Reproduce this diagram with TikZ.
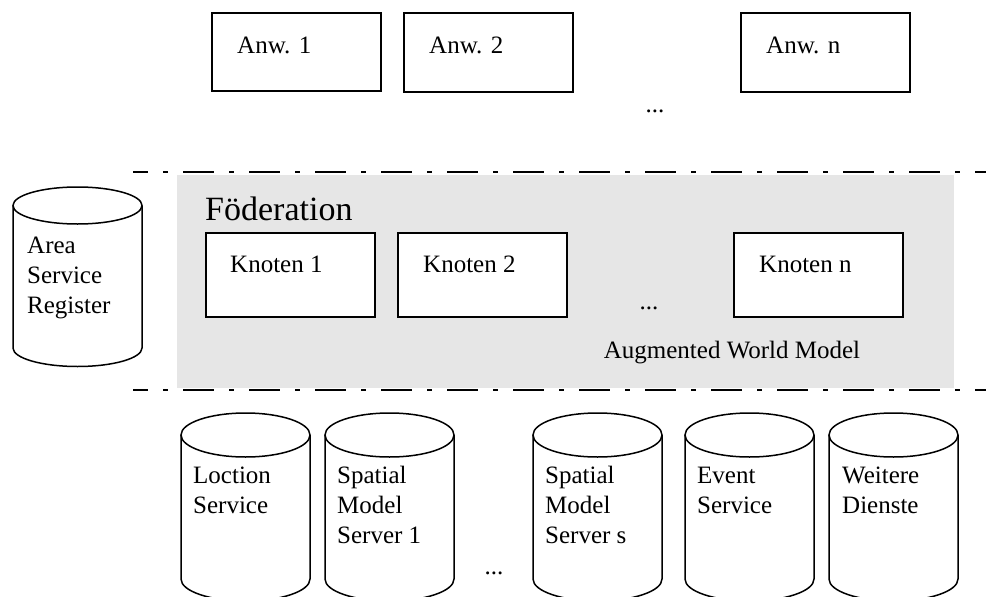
\documentclass[tikz,border=0pt]{standalone}
\usepackage{fontspec}
\setmainfont{Liberation Serif}
\definecolor{fedgray}{HTML}{E6E6E6}

% stacked lines, first baseline on the node's base
\newcommand\linestack[1]{\begin{tabular}[t]{@{}l@{}}#1\end{tabular}}

% database cylinder: left x, right x, top-centre y, bottom-centre y, ellipse half-height
\newcommand\drawdb[5]{%
  \draw[dbline] (#1,#3) -- (#1,#4)
    arc[start angle=180, end angle=360, x radius={(#2-#1)/2}, y radius=#5] -- (#2,#3);
  \draw[dbline] ({(#1+#2)/2},#3) ellipse [x radius={(#2-#1)/2}, y radius=#5];
}

\tikzset{
  box/.style={draw=black, line width=1.6pt, fill=white, anchor=north west,
              inner sep=0pt, minimum width=169pt},
  lbl/.style={font=\fontsize{25}{30}\selectfont, inner sep=0pt, anchor=base west},
  dots/.style={font=\fontsize{25}{30}\selectfont, inner sep=0pt, anchor=base},
  dbline/.style={draw=black, line width=1.5pt, fill=white},
  sepline/.style={line width=1.5pt,
                  dash pattern=on 31pt off 15pt on 5pt off 15pt, dash phase=16pt},
}

\begin{document}
\begin{tikzpicture}[x=1pt, y=1pt]
\useasboundingbox (0,0) rectangle (986,-597);
\fill[white] (0,0) rectangle (986,-597);

% applications
\node[box, minimum height=78pt] (anw1) at (211,-12) {};
\node[box, minimum height=79pt] (anw2) at (403,-12) {};
\node[box, minimum height=79pt] (anwn) at (740,-12) {};
\node[lbl] (anw1-t) at (237,-53) {Anw. 1};
\node[lbl] (anw2-t) at (429,-53) {Anw. 2};
\node[lbl] (anwn-t) at (766,-53) {Anw. n};
\node[dots] (anw-dots) at (655,-112) {...};

% federation layer
\fill[fedgray] (177,-175) rectangle (954,-388);
\draw[sepline] (133,-172) -- (986,-172);
\draw[sepline] (133,-390) -- (986,-390);
\node[lbl, font=\fontsize{34}{40}\selectfont] (fed-t) at (205,-220) {Föderation};

\node[box, minimum height=84pt] (kn1) at (205,-232) {};
\node[box, minimum height=84pt] (kn2) at (397,-232) {};
\node[box, minimum height=84pt] (knn) at (733,-232) {};
\node[lbl] (kn1-t) at (230,-272) {Knoten 1};
\node[lbl] (kn2-t) at (423,-272) {Knoten 2};
\node[lbl] (knn-t) at (759,-272) {Knoten n};
\node[dots] (kn-dots) at (649,-309) {...};
\node[lbl, anchor=base] (awm-t) at (732,-358) {Augmented World Model};

% area service register
\drawdb{13}{142}{-205.5}{-348}{18.5}
\node[lbl] (asr-t) at (27,-253) {\linestack{Area\\Service\\Register}};

% services
\drawdb{181}{310}{-435}{-579}{22}
\drawdb{325}{454}{-435}{-579}{22}
\drawdb{533}{662}{-435}{-579}{22}
\drawdb{685}{814}{-435}{-579}{22}
\drawdb{829}{958}{-435}{-579}{22}
\node[lbl] (ls-t)  at (193,-483) {\linestack{Loction\\Service}};
\node[lbl] (sm1-t) at (337,-483) {\linestack{Spatial\\Model\\Server 1}};
\node[lbl] (sms-t) at (545,-483) {\linestack{Spatial\\Model\\Server s}};
\node[lbl] (ev-t)  at (697,-483) {\linestack{Event\\Service}};
\node[lbl] (wd-t)  at (842,-483) {\linestack{Weitere\\Dienste}};
\node[dots] (srv-dots) at (494,-574) {...};
\end{tikzpicture}
\end{document}
